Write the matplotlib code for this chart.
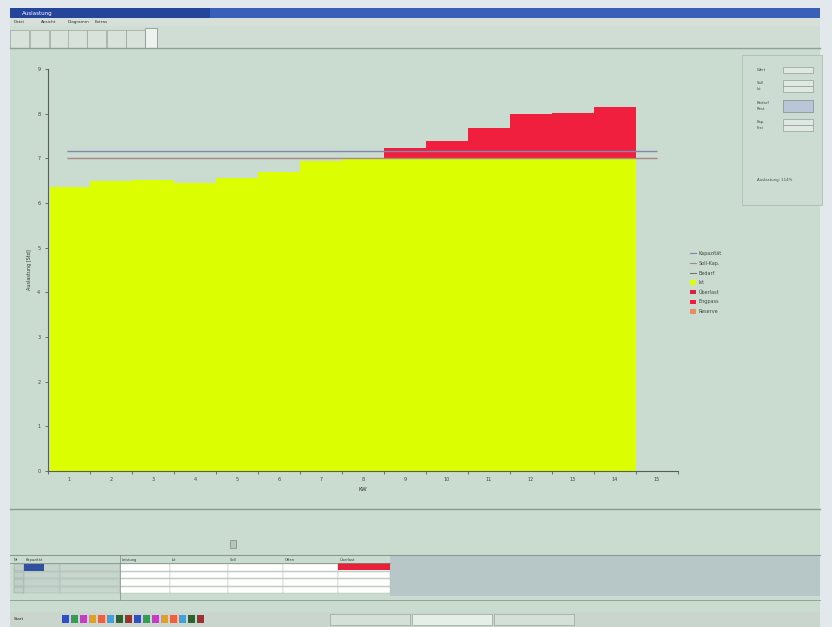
import matplotlib
matplotlib.use("Agg")
import matplotlib.pyplot as plt
from matplotlib.patches import Rectangle, Patch
from matplotlib.lines import Line2D

# ---------------- data ----------------
weeks = list(range(1, 15))
tick_labels = [str(i) for i in range(1, 16)]
ist_last = [6.36, 6.49, 6.51, 6.44, 6.55, 6.70, 6.94, 6.99, 7.0, 7.0, 7.0, 7.0, 7.0, 7.0]
ueberlast = [0, 0, 0, 0, 0, 0, 0, 0, 0.23, 0.38, 0.67, 0.99, 1.02, 1.15]
kapazitaet = 7.0
max_kapazitaet = 7.16
y_ticks = list(range(0, 10))
legend_labels = ["Kapazität", "Soll-Kap.", "Bedarf", "Ist", "Überlast", "Engpass", "Reserve"]
menu_items = ["Datei", "Ansicht", "Diagramm", "Extras"]

# ---------------- colours ----------------
BG = "#cadbcf"
BORDER = "#e3e8ec"
YELLOW = "#dcff00"
RED = "#f01f3e"
DARKRED = "#d8203f"
ORANGE = "#f08a60"
LINE_BLUE = "#8286b0"
LINE_RED = "#a88888"

W, H = 832, 627
fig = plt.figure(figsize=(W / 100, H / 100), dpi=100)
fig.patch.set_facecolor(BORDER)

# background / window decoration axes in pixel coordinates
bg = fig.add_axes([0, 0, 1, 1], zorder=0)
bg.set_xlim(0, W)
bg.set_ylim(H, 0)
bg.axis("off")

def rect(x, y, w, h, fc, ec="none", lw=0.6):
    bg.add_patch(Rectangle((x, y), w, h, facecolor=fc, edgecolor=ec, linewidth=lw))

# window body
rect(10, 8, 810, 619, BG)
# title bar
rect(10, 8, 810, 10, "#3a5fb8")
rect(10, 8, 200, 10, "#24459a")
bg.text(22, 13.5, "Auslastung", fontsize=4, color="white", va="center")
# menu bar
rect(10, 18, 810, 8, "#d6e0d8")
for i, m in enumerate(menu_items):
    bg.text(14 + i * 27, 22, m, fontsize=3, color="#333333", va="center")
# tab / toolbar row
rect(10, 26, 810, 22, "#d0ddd4")
for tx in [10, 30, 50, 68, 87, 107, 126]:
    rect(tx, 30, 19, 18, "#d8e2da", ec="#8a9a90", lw=0.4)
rect(145, 28, 12, 20, "#eef2ee", ec="#7a8a80", lw=0.5)
bg.plot([10, 820], [48, 48], color="#8fa096", lw=1.0)
# separators
bg.plot([10, 820], [509, 509], color="#8a9a90", lw=1.0)
# right info panel
rect(742, 55, 80, 150, "#ccdcd2", ec="#aebdb4", lw=0.6)
panel_rows = [(70, "Wert"), (83, "Soll"), (89, "Ist"), (103, "Bedarf"), (109, "Rest"), (122, "Kap."), (128, "Frei")]
for py, lab in panel_rows:
    bg.text(757, py, lab, fontsize=2.8, color="#445048", va="center")
    rect(783, py - 3, 30, 5.5, "#dfe9e2", ec="#7f8f86", lw=0.4)
rect(783, 100, 30, 12, "#b8c6d8", ec="#7f8f86", lw=0.4)
bg.text(757, 180, "Auslastung: 114%", fontsize=2.8, color="#445048", va="center")

# bottom area
rect(230, 540, 6, 8, "#b8c4bc", ec="#6a7a70", lw=0.4)
bg.plot([10, 820], [555, 555], color="#8a9a90", lw=0.8)
rect(390, 556, 430, 40, "#b7c7c8")
# table
col_x = [12, 24, 60, 120, 170, 228, 283, 338, 390]
headers = ["Nr", "Kapazität", "", "Leistung", "Ist", "Soll", "Offen", "Überlast"]
for i, hd in enumerate(headers):
    bg.text(col_x[i] + 2, 560, hd, fontsize=2.6, color="#334038", va="center")
bg.plot([10, 390], [563, 563], color="#7a8a80", lw=0.5)
for r in range(4):
    yy = 564 + r * 7.5
    rect(14, yy, 10, 6.5, "#c0d0c8", ec="#8a9a90", lw=0.3)
    rect(24, yy, 36, 6.5, "#c4d4cc", ec="#a0b0a6", lw=0.3)
    rect(60, yy, 60, 6.5, "#c8d6ce", ec="#a0b0a6", lw=0.3)
    for c in range(3, 8):
        rect(col_x[c], yy, col_x[c + 1] - col_x[c], 6.5, "white", ec="#b0bcb4", lw=0.3)
rect(24, 564, 20, 6.5, "#3050a0")
rect(338, 563, 52, 7, "#e8203a")
bg.plot([120, 120], [555, 600], color="#7a8a80", lw=0.5)
# status / taskbar
bg.plot([10, 820], [600, 600], color="#8a9a90", lw=0.6)
rect(10, 612, 810, 15, "#c9d5cd")
icon_cols = ["#3050c0", "#30a050", "#c040c0", "#e0a020", "#f06040", "#40a0e0", "#306030", "#a03030"]
for i in range(16):
    rect(62 + i * 9, 615, 7, 8, icon_cols[i % len(icon_cols)])
rect(330, 614, 80, 11, "#d5e0d8", ec="#8a9a90", lw=0.4)
rect(412, 614, 80, 11, "#e6eee8", ec="#8a9a90", lw=0.4)
rect(494, 614, 80, 11, "#d5e0d8", ec="#8a9a90", lw=0.4)
bg.text(14, 619.5, "Start", fontsize=3, color="#222222", va="center")

# ---------------- main chart ----------------
x0, x1 = 48, 678
y0, y1 = 471, 69
ax = fig.add_axes([x0 / W, (H - y0) / H, (x1 - x0) / W, (y0 - y1) / H], zorder=2)
ax.set_facecolor("none")

ax.bar(weeks, ist_last, width=1.0, color=YELLOW, edgecolor="none", zorder=2)
ax.bar(weeks, ueberlast, bottom=ist_last, width=1.0, color=RED, edgecolor="none", zorder=2)
ax.hlines(max_kapazitaet, 0.95, 15.0, color=LINE_BLUE, lw=1.0, zorder=3)
ax.hlines(kapazitaet, 0.95, 15.0, color=LINE_RED, lw=1.0, zorder=3)

ax.set_xlim(0.5, 15.5)
ax.set_ylim(0, 9)
for s in ["top", "right"]:
    ax.spines[s].set_visible(False)
for s in ["left", "bottom"]:
    ax.spines[s].set_color("#556058")
    ax.spines[s].set_linewidth(0.8)

ax.set_xticks(range(1, 16))
ax.set_xticklabels(tick_labels, fontsize=3.5, color="#404840")
ax.tick_params(axis="x", which="major", length=0, pad=4)
ax.set_xticks([i + 0.5 for i in range(0, 16)], minor=True)
ax.tick_params(axis="x", which="minor", length=2.5, color="#556058", width=0.6, direction="out")
ax.set_yticks(y_ticks)
ax.set_yticklabels([str(v) for v in y_ticks], fontsize=3.5, color="#404840")
ax.tick_params(axis="y", length=2.5, color="#556058", width=0.6, pad=3)
ax.set_xlabel("KW", fontsize=4, color="#303830", labelpad=4)
ax.set_ylabel("Auslastung [Std]", fontsize=3.5, color="#303830", labelpad=4)

handles = [
    Line2D([], [], color=LINE_BLUE, lw=0.8),
    Line2D([], [], color=LINE_RED, lw=0.8),
    Line2D([], [], color="#707870", lw=0.8),
    Patch(facecolor=YELLOW, edgecolor="none"),
    Patch(facecolor=DARKRED, edgecolor="none"),
    Patch(facecolor=RED, edgecolor="none"),
    Patch(facecolor=ORANGE, edgecolor="none"),
]
fig.legend(handles, legend_labels, loc="upper left",
           bbox_to_anchor=(686 / W, (H - 247) / H), frameon=False,
           fontsize=3.5, handlelength=1.2, handleheight=1.0, labelspacing=0.95,
           handletextpad=0.5, labelcolor="#404840")

fig.savefig("out.png", dpi=100, facecolor=fig.get_facecolor())
